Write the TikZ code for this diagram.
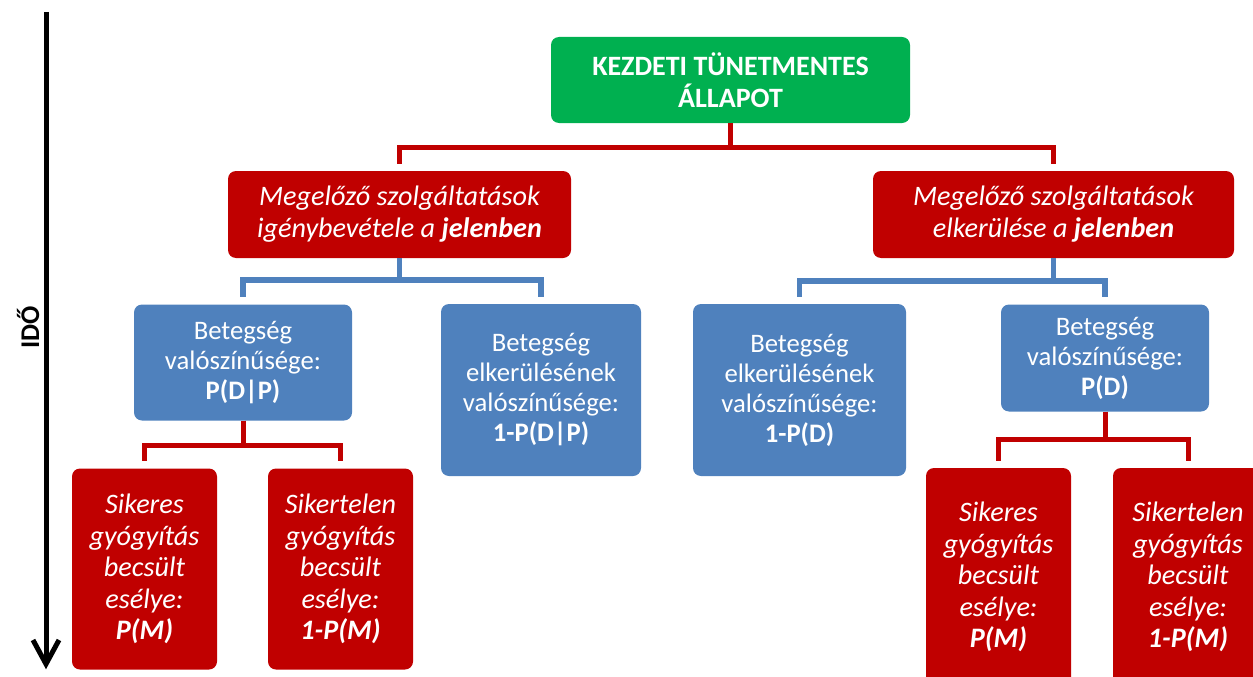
\documentclass[tikz,border=0pt]{standalone}
\usepackage{fontspec}
\setmainfont{Carlito}
\usetikzlibrary{arrows.meta}
\definecolor{cgreen}{HTML}{00B050}
\definecolor{cred}{HTML}{C00000}
\definecolor{cblue}{HTML}{4F81BD}
\begin{document}
\begin{tikzpicture}[x=1pt,y=-1pt,
  box/.style={rounded corners=8pt, text=white, align=center, inner sep=0pt},
  gbox/.style={box, fill=cgreen, font=\fontsize{28}{32}\selectfont\bfseries},
  rbox/.style={box, fill=cred, font=\fontsize{28.2}{32}\selectfont\itshape},
  rboxs/.style={box, fill=cred, font=\fontsize{28.2}{31.5}\selectfont\itshape},
  bbox/.style={box, fill=cblue, font=\fontsize{26.7}{30}\selectfont},
  rline/.style={draw=cred, line width=5pt},
  bline/.style={draw=cblue, line width=5.5pt},
  timeline/.style={draw=black, line width=5pt},
  timehead/.style={draw=black, line width=5pt, line join=miter},
  timelabel/.style={rotate=90, font=\fontsize{27}{30}\selectfont\bfseries}
]
\useasboundingbox (0,0) rectangle (1253,677);
\clip (0,0) rectangle (1253,677);

% time axis
\coordinate (ttop) at (46,12);
\coordinate (tbot) at (46,664);
\draw[timeline] (ttop) -- ([yshift=3pt]tbot);
\draw[timehead] ([shift={(-13pt,24pt)}]tbot) -- (tbot) -- ([shift={(13pt,24pt)}]tbot);
\node[timelabel] (tlab) at (28,327) {IDŐ};

% boxes
\node[gbox, minimum width=359pt, minimum height=86pt] (g) at (730.5,80) {KEZDETI TÜNETMENTES\\ÁLLAPOT};

\node[rbox, minimum width=343pt, minimum height=87pt] (r1) at (399.5,214.5)
  {Megelőző szolgáltatások\\igénybevétele a \textbf{jelenben}};
\node[rbox, minimum width=361pt, minimum height=87pt] (r2) at (1053.5,214.5)
  {Megelőző szolgáltatások\\elkerülése a \textbf{jelenben}};

\node[bbox, minimum width=218pt, minimum height=116pt] (b1) at (243,362.5)
  {Betegség\\valószínűsége:\\\textbf{P(D|P)}};
\node[bbox, minimum width=200pt, minimum height=172pt] (b2) at (541,390)
  {Betegség\\elkerülésének\\valószínűsége:\\\textbf{1-P(D|P)}};
\node[bbox, minimum width=213pt, minimum height=172pt] (b3) at (799.5,390)
  {Betegség\\elkerülésének\\valószínűsége:\\\textbf{1-P(D)}};
\node[bbox, minimum width=208pt, minimum height=107pt] (b4) at (1105,358)
  {Betegség\\valószínűsége:\\\textbf{P(D)}};

\node[rboxs, minimum width=145pt, minimum height=201pt] (s1) at (144.5,569)
  {Sikeres\\gyógyítás\\becsült\\esélye:\\\textbf{P(M)}};
\node[rboxs, minimum width=145pt, minimum height=201pt] (f1) at (340.5,569)
  {Sikertelen\\gyógyítás\\becsült\\esélye:\\\textbf{1-P(M)}};
\node[rboxs, minimum width=145pt, minimum height=218pt] (s2) at (998.5,577)
  {Sikeres\\gyógyítás\\becsült\\esélye:\\\textbf{P(M)}};
\node[rboxs, minimum width=150pt, minimum height=218pt] (f2) at (1188,577)
  {Sikertelen\\gyógyítás\\becsült\\esélye:\\\textbf{1-P(M)}};

% connectors
\draw[rline] (g.south) -- ++(0,24) -| ([yshift=7pt]r1.north);
\draw[rline] (g.south) -- ++(0,24) -| ([yshift=7pt]r2.north);

\draw[bline] (r1.south) -- ++(0,22) -| ([yshift=7pt]b1.north);
\draw[bline] (r1.south) -- ++(0,22) -| ([yshift=7pt]b2.north);
\draw[bline] (r2.south) -- ++(0,23) -| ([yshift=7pt]b3.north);
\draw[bline] (r2.south) -- ++(0,23) -| ([yshift=7pt]b4.north);

\draw[rline] (b1.south) -- ++(0,25) -| ([yshift=7pt]s1.north);
\draw[rline] (b1.south) -- ++(0,25) -| ([yshift=7pt]f1.north);
\draw[rline] (b4.south) -- ++(0,28) -| ([yshift=7pt]s2.north);
\draw[rline] (b4.south) -- ++(0,28) -| ([yshift=7pt]f2.north);
\end{tikzpicture}
\end{document}
